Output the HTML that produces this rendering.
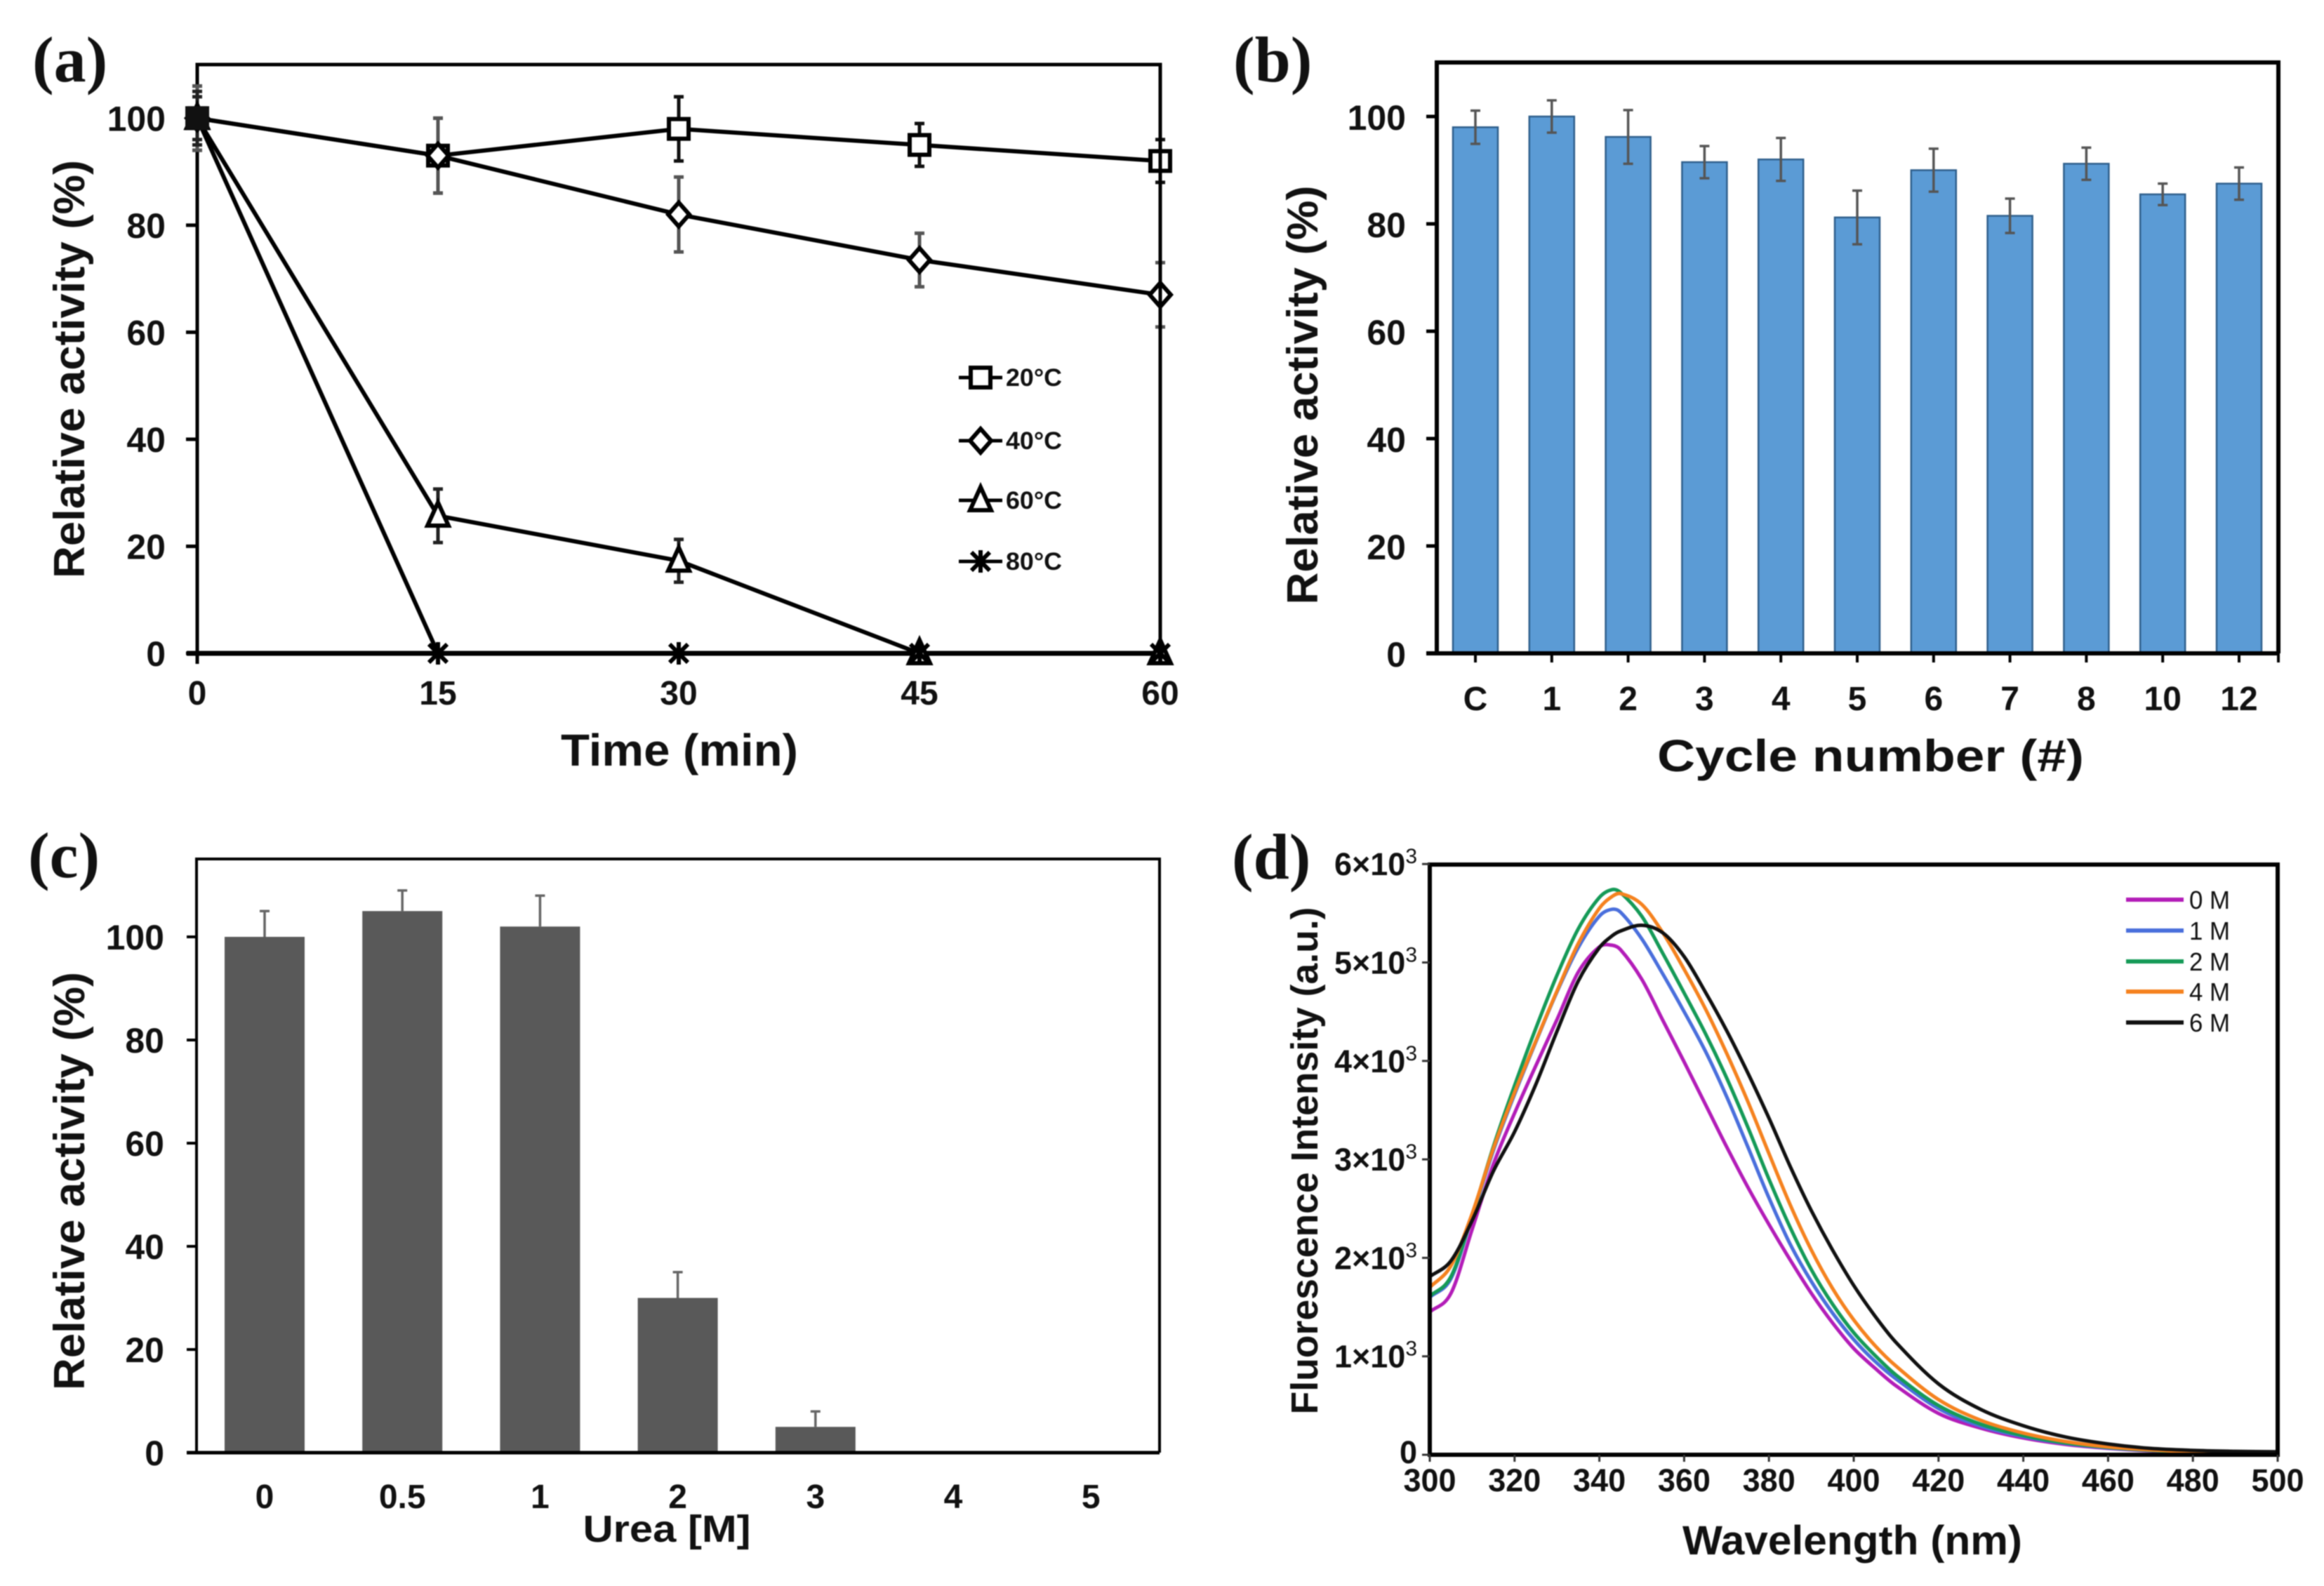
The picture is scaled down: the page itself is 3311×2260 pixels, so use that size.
<!DOCTYPE html>
<html lang="en">
<head>
<meta charset="utf-8">
<title>Enzyme characterisation panels</title>
<style>
html,body{margin:0;padding:0;background:#fff;width:3311px;height:2260px;overflow:hidden}
svg{display:block;font-family:"Liberation Sans",Arial,sans-serif;font-weight:bold;fill:#111;filter:blur(0.8px)}
.letter{font-family:"Liberation Serif",serif;font-weight:bold;font-size:92px;fill:#111}
</style>
</head>
<body>
<svg id="fig" xmlns="http://www.w3.org/2000/svg" width="3311" height="2260" viewBox="0 0 3311 2260">
  <rect x="0" y="0" width="3311" height="2260" fill="#fff"/>
  <g id="panelA">
    <text class="letter" x="46" y="116">(a)</text>
    <text transform="translate(120,526) rotate(-90)" text-anchor="middle" font-size="62" textLength="596" lengthAdjust="spacingAndGlyphs">Relative activity (%)</text>
    <text x="968" y="1091" text-anchor="middle" font-size="64" textLength="338" lengthAdjust="spacingAndGlyphs">Time (min)</text>
  </g>
  <g id="panelB">
    <text class="letter" x="1757" y="116">(b)</text>
    <text transform="translate(1877,563) rotate(-90)" text-anchor="middle" font-size="62" textLength="597" lengthAdjust="spacingAndGlyphs">Relative activity (%)</text>
    <text x="2665" y="1099" text-anchor="middle" font-size="64" textLength="608" lengthAdjust="spacingAndGlyphs">Cycle number (#)</text>
  </g>
  <g id="panelC">
    <text class="letter" x="40" y="1250">(c)</text>
    <text transform="translate(120,1683) rotate(-90)" text-anchor="middle" font-size="62" textLength="596" lengthAdjust="spacingAndGlyphs">Relative activity (%)</text>
    <text x="950" y="2197" text-anchor="middle" font-size="54" textLength="239" lengthAdjust="spacingAndGlyphs">Urea [M]</text>
  </g>
  <g id="panelD">
    <text class="letter" x="1755" y="1252">(d)</text>
    <text transform="translate(1877,1654) rotate(-90)" text-anchor="middle" font-size="54" textLength="723" lengthAdjust="spacingAndGlyphs">Fluorescence Intensity (a.u.)</text>
    <text x="2639" y="2215" text-anchor="middle" font-size="58" textLength="484" lengthAdjust="spacingAndGlyphs">Wavelength (nm)</text>
  </g>
</svg>
<script>
// ---------- Panel (a) data ----------
const timeMinutes = [0, 15, 30, 45, 60];
const activityTicks = [0, 20, 40, 60, 80, 100];
const temp20Values = [100, 93, 98, 95, 92];
const temp20Errors = [6, 7, 6, 4, 4];
const temp40Values = [100, 93, 82, 73.5, 67];
const temp40Errors = [6, 7, 7, 5, 6];
const temp60Values = [100, 25.7, 17.3, 0, 0];
const temp60Errors = [5, 5, 4, 0, 0];
const temp80Values = [100, 0, 0, 0, 0];
const temp80Errors = [4, 0, 0, 0, 0];
const tempLabels = ['20°C', '40°C', '60°C', '80°C'];

// ---------- Panel (b) data ----------
const cycleLabels = ['C', '1', '2', '3', '4', '5', '6', '7', '8', '10', '12'];
const cycleValues = [98, 100, 96.2, 91.5, 92, 81.2, 90, 81.5, 91.2, 85.5, 87.5];
const cycleErrors = [3.1, 3, 5, 3, 4, 5, 4, 3.2, 3, 2, 3];

// ---------- Panel (c) data ----------
const ureaLabels = ['0', '0.5', '1', '2', '3', '4', '5'];
const ureaValues = [100, 105, 102, 30, 5, 0, 0];
const ureaErrors = [5, 4, 6, 5, 3, 0, 0];

// ---------- Panel (d) data ----------
const wavelengths = [300,305,310,315,320,325,330,335,340,343,345,350,355,360,365,370,375,380,385,390,395,400,405,410,420,430,440,450,460,470,480,490,500];
const intensity0M = [1450,1640,2290,2950,3470,3950,4420,4900,5158,5175,5130,4830,4410,3990,3560,3130,2720,2340,1980,1640,1340,1080,880,700,420,270,170,105,65,40,25,15,15];
const intensity1M = [1600,1790,2420,3090,3660,4190,4700,5150,5470,5540,5510,5240,4880,4500,4100,3640,3130,2610,2140,1760,1440,1170,950,770,470,290,185,115,70,45,30,20,15];
const intensity2M = [1610,1810,2430,3130,3750,4330,4870,5340,5660,5740,5710,5470,5090,4690,4280,3830,3330,2800,2310,1880,1530,1240,1010,810,500,310,195,120,75,45,30,20,15];
const intensity4M = [1700,1920,2450,3110,3680,4200,4710,5190,5550,5670,5700,5590,5300,4930,4530,4080,3590,3060,2540,2080,1690,1370,1110,900,560,350,220,135,80,50,30,20,15];
const intensity6M = [1810,1970,2380,2880,3280,3760,4300,4810,5150,5270,5320,5378,5300,5060,4700,4310,3880,3420,2930,2480,2080,1720,1410,1140,720,460,295,180,110,65,45,35,30];
const concentrationLabels = ['0 M', '1 M', '2 M', '4 M', '6 M'];
const wavelengthTicks = [300,320,340,360,380,400,420,440,460,480,500];
const intensityTicks = [0, 1, 2, 3, 4, 5, 6];

// ---------- helpers ----------
const NS = 'http://www.w3.org/2000/svg';
function node(tag, parent, attrs) {
  const el = document.createElementNS(NS, tag);
  for (const k in attrs) el.setAttribute(k, attrs[k]);
  parent.appendChild(el);
  return el;
}
function line(parent, x1, y1, x2, y2, color, width) {
  return node('line', parent, {x1, y1, x2, y2, stroke: color, 'stroke-width': width});
}
function label(parent, x, y, str, size, anchor) {
  const t = node('text', parent, {x, y, 'font-size': size, 'text-anchor': anchor});
  t.textContent = str;
  return t;
}
// Hermite spline through data points, with tangents that respect uneven spacing
function smoothPath(pts) {
  const n = pts.length;
  const slope = pts.map((p, i) => {
    const a = pts[Math.max(i - 1, 0)], b = pts[Math.min(i + 1, n - 1)];
    return (b[1] - a[1]) / (b[0] - a[0]);
  });
  let d = 'M' + pts[0][0].toFixed(1) + ' ' + pts[0][1].toFixed(1);
  for (let i = 0; i < n - 1; i++) {
    const h = (pts[i + 1][0] - pts[i][0]) / 3;
    d += 'C' + (pts[i][0] + h).toFixed(1) + ' ' + (pts[i][1] + slope[i] * h).toFixed(1) + ' ' +
         (pts[i + 1][0] - h).toFixed(1) + ' ' + (pts[i + 1][1] - slope[i + 1] * h).toFixed(1) + ' ' +
         pts[i + 1][0].toFixed(1) + ' ' + pts[i + 1][1].toFixed(1);
  }
  return d;
}
function drawMarker(parent, kind, cx, cy) {
  const style = {fill: '#fff', stroke: '#000', 'stroke-width': 6};
  if (kind === 0) {
    return node('rect', parent, Object.assign({x: cx - 14, y: cy - 14, width: 28, height: 28}, style));
  }
  if (kind === 1) {
    return node('polygon', parent, Object.assign({points: [cx, cy - 17, cx + 15, cy, cx, cy + 17, cx - 15, cy].join(' ')}, style));
  }
  if (kind === 2) {
    return node('polygon', parent, Object.assign({points: [cx, cy - 19, cx + 15, cy + 14, cx - 15, cy + 14].join(' ')}, style));
  }
  const r = 13;
  return node('path', parent, {d: 'M' + (cx - r) + ' ' + (cy - r) + 'L' + (cx + r) + ' ' + (cy + r) + 'M' + (cx + r) + ' ' + (cy - r) + 'L' + (cx - r) + ' ' + (cy + r) + 'M' + cx + ' ' + (cy - r - 3) + 'L' + cx + ' ' + (cy + r + 3), stroke: '#000', 'stroke-width': 6, fill: 'none'});
}

// ---------- Panel (a) ----------
(function () {
  const g = document.getElementById('panelA');
  const xA = v => 281 + (v / 60) * 1372;
  const yA = v => 931 - v * 7.626;
  const series = [temp20Values, temp40Values, temp60Values, temp80Values];
  const errors = [temp20Errors, temp40Errors, temp60Errors, temp80Errors];
  const errorColors = ['#111', '#555', '#222', '#222'];
  const frame = node('path', g, {d: 'M281 931V92H1653V931', fill: 'none', stroke: '#000', 'stroke-width': 5});
  
  
  const base = line(g, 266, yA(0), 1653, yA(0), '#000', 7);
  
  
  activityTicks.forEach(v => {
    const tick = line(g, 265, yA(v), 281, yA(v), '#000', 5);
    
    
    const t = label(g, 236, yA(v) + 18, String(v), 50, 'end');
    
    
  });
  timeMinutes.forEach(v => {
    const tick = line(g, xA(v), yA(0), xA(v), yA(0) + 15, '#000', 5);
    
    
    const t = label(g, xA(v), 1004, String(v), 48, 'middle');
    
    
  });
  series.forEach((vals, s) => {
    timeMinutes.forEach((m, i) => {
      if (errors[s][i] > 0) {
        const cx = xA(m);
        const eb = node('path', g, {d: 'M' + cx + ' ' + yA(vals[i] + errors[s][i]) + 'V' + yA(vals[i] - errors[s][i]) + 'M' + (cx - 7) + ' ' + yA(vals[i] + errors[s][i]) + 'H' + (cx + 7) + 'M' + (cx - 7) + ' ' + yA(vals[i] - errors[s][i]) + 'H' + (cx + 7), stroke: errorColors[s], 'stroke-width': 5, fill: 'none'});
        
        
      }
    });
  });
  series.forEach((vals, s) => {
    const pts = timeMinutes.map((m, i) => xA(m) + ',' + yA(vals[i])).join(' ');
    const pl = node('polyline', g, {points: pts, fill: 'none', stroke: '#000', 'stroke-width': 6});
    
    
  });
  [0, 1, 2, 3].forEach(s => {
    timeMinutes.forEach((m, i) => {
      const mk = drawMarker(g, s, xA(m), yA(series[s][i]));
      
      
    });
  });
  // crowded starting point reads as a solid block
  const block = node('rect', g, {x: xA(0) - 17, y: yA(100) - 17, width: 34, height: 34, fill: '#111', rx: 3});
  
  
  // legend
  const legendRows = [538, 628, 713, 800];
  tempLabels.forEach((name, s) => {
    const cy = legendRows[s];
    const ln = line(g, 1366, cy, 1428, cy, '#000', 5);
    
    
    const mk = drawMarker(g, s, 1397, cy);
    
    
    const t = node('text', g, {x: 1433, y: cy + 12, 'font-size': 35, textLength: 80, lengthAdjust: 'spacingAndGlyphs'});
    t.textContent = name;
    
    
  });
  const rightEdge = line(g, 1653, 92, 1653, 931, '#000', 5);
  
  
})();

// ---------- Panel (b) ----------
(function () {
  const g = document.getElementById('panelB');
  const xB = i => 2102 + i * 108.8;
  const yB = v => 931 - v * 7.65;
  const barW = 64;
  cycleValues.forEach((v, i) => {
    const bar = node('rect', g, {x: xB(i) - barW / 2, y: yB(v), width: barW, height: yB(0) - yB(v), fill: '#5b9bd5', stroke: '#2f5f8c', 'stroke-width': 2.5});
    
    
    const cx = xB(i);
    const eb = node('path', g, {d: 'M' + cx + ' ' + yB(v + cycleErrors[i]) + 'V' + yB(v - cycleErrors[i]) + 'M' + (cx - 7) + ' ' + yB(v + cycleErrors[i]) + 'H' + (cx + 7) + 'M' + (cx - 7) + ' ' + yB(v - cycleErrors[i]) + 'H' + (cx + 7), stroke: '#555', 'stroke-width': 3.5, fill: 'none'});
    
    
    const tick = line(g, cx, yB(0), cx, yB(0) + 13, '#000', 4);
    
    
    const t = label(g, cx, 1012, cycleLabels[i], 48, 'middle');
    
    
  });
  const frame = node('path', g, {d: 'M2047 931V89H3246V931', fill: 'none', stroke: '#000', 'stroke-width': 6});
  
  
  const base = line(g, 2032, yB(0), 3246, yB(0), '#000', 6);
  
  
  const endTick = line(g, 3246, yB(0), 3246, yB(0) + 13, '#000', 4);
  
  
  activityTicks.forEach(v => {
    const tick = line(g, 2032, yB(v), 2047, yB(v), '#000', 5);
    
    
    const t = label(g, 2003, yB(v) + 19, String(v), 50, 'end');
    
    
  });
})();

// ---------- Panel (c) ----------
(function () {
  const g = document.getElementById('panelC');
  const xC = i => 377 + i * 196.2;
  const yC = v => 2070 - v * 7.35;
  const barW = 114;
  ureaValues.forEach((v, i) => {
    const cx = xC(i);
    if (v > 0) {
      const eb = node('path', g, {d: 'M' + cx + ' ' + yC(v) + 'V' + yC(v + ureaErrors[i]) + 'M' + (cx - 7) + ' ' + yC(v + ureaErrors[i]) + 'H' + (cx + 7), stroke: '#666', 'stroke-width': 3.5, fill: 'none'});
      
      
      const bar = node('rect', g, {x: cx - barW / 2, y: yC(v), width: barW, height: yC(0) - yC(v), fill: '#595959'});
      
      
    }
    const t = label(g, cx, 2149, ureaLabels[i], 48, 'middle');
    
    
  });
  const frame = node('path', g, {d: 'M280 2070V1224H1652V2070', fill: 'none', stroke: '#000', 'stroke-width': 4});
  
  
  const base = line(g, 266, yC(0), 1652, yC(0), '#000', 5);
  
  
  activityTicks.forEach(v => {
    const tick = line(g, 266, yC(v), 280, yC(v), '#000', 4);
    
    
    const t = label(g, 234, yC(v) + 18, String(v), 50, 'end');
    
    
  });
})();

// ---------- Panel (d) ----------
(function () {
  const g = document.getElementById('panelD');
  const xD = w => 2037 + (w - 300) * 6.04;
  const yD = v => 2073 - v * 0.1403;
  const curves = [intensity0M, intensity1M, intensity2M, intensity4M, intensity6M];
  const colors = ['#b31db8', '#4a6fdc', '#159a57', '#f5821f', '#111111'];
  curves.forEach((vals, s) => {
    const pts = wavelengths.map((w, i) => [xD(w), yD(vals[i])]);
    const curve = node('path', g, {d: smoothPath(pts), fill: 'none', stroke: colors[s], 'stroke-width': 5});
    
    
  });
  const frame = node('path', g, {d: 'M2037 2073V1232H3245V2073Z', fill: 'none', stroke: '#000', 'stroke-width': 6});
  
  
  intensityTicks.forEach(v => {
    const tick = line(g, 2026, yD(v * 1000), 2037, yD(v * 1000), '#333', 3);
    
    
    const t = node('text', g, {x: 2019, y: yD(v * 1000) + (v === 0 ? 12 : 16), 'font-size': 45, 'text-anchor': 'end'});
    
    
    if (v === 0) {
      t.textContent = '0';
    } else {
      t.textContent = v + '×10';
      const sup = node('tspan', t, {dy: -17, 'font-size': 30, 'font-weight': 'normal'});
      sup.textContent = '3';
    }
  });
  wavelengthTicks.forEach(w => {
    const tick = line(g, xD(w), 2073, xD(w), 2083, '#333', 3);
    
    
    const t = label(g, xD(w), 2125, String(w), 45, 'middle');
    
    
  });
  const legendRows = [1282, 1326, 1370, 1413, 1457];
  concentrationLabels.forEach((name, s) => {
    const cy = legendRows[s];
    const ln = line(g, 3029, cy, 3111, cy, colors[s], 6);
    
    
    const t = node('text', g, {x: 3119, y: cy + 13, 'font-size': 36, 'font-weight': 'normal', textLength: 58, lengthAdjust: 'spacingAndGlyphs'});
    t.textContent = name;
    
    
  });
})();
</script>
</body>
</html>
